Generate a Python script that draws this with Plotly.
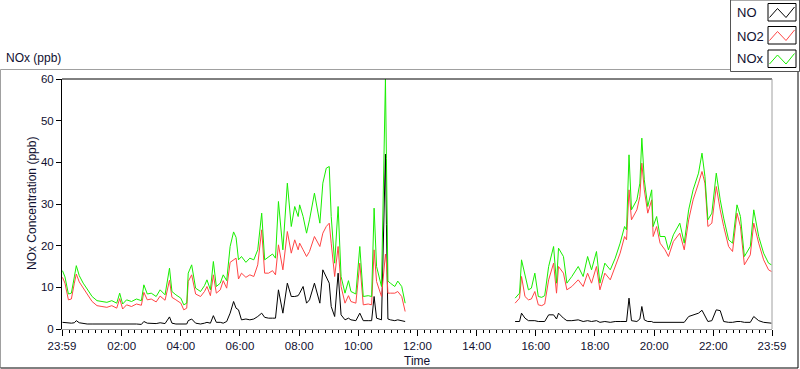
import plotly.graph_objects as go

# ---------------- data ----------------
DAY = "2024-01-02"
PREV_DAY = "2024-01-01"

times_am = ["00:00","00:05","00:12","00:18","00:24","00:28","00:34","00:42","00:50","01:00",
            "01:10","01:20","01:30","01:40","01:50","01:56","02:02","02:10","02:20","02:30",
            "02:40","02:45","02:52","03:00","03:10","03:18","03:28","03:37","03:42","03:50",
            "04:00","04:06","04:12","04:15","04:22","04:30","04:40","04:48","04:53","05:00",
            "05:06","05:12","05:20","05:26","05:33","05:40","05:47","05:52","05:57","06:03",
            "06:12","06:20","06:28","06:36","06:44","06:50","06:58","07:06","07:12","07:18",
            "07:27","07:36","07:44","07:51","07:58","08:01","08:08","08:15","08:21","08:31",
            "08:42","08:48","08:55","09:01","09:05","09:12","09:19","09:25","09:33","09:40",
            "09:45","09:55","10:03","10:10","10:20","10:27","10:32","10:37","10:47","10:55",
            "10:57","11:00","11:05","11:14","11:20","11:28","11:35"]
nox_am = [14.0,12.5,8.4,8.6,12.5,15.2,12.8,11.0,9.6,7.8,
          6.8,6.6,6.4,6.8,6.2,8.6,6.0,7.0,6.6,7.2,
          6.8,10.6,8.4,8.6,7.8,9.4,8.2,14.6,9.0,8.2,
          7.4,5.8,6.2,13.4,15.4,9.8,9.0,10.4,11.8,9.4,
          16.2,10.2,11.0,13.0,11.6,19.8,23.3,22.0,16.6,17.4,
          16.0,17.0,16.6,19.0,27.8,16.6,17.4,18.0,17.0,30.6,
          19.0,35.0,24.6,29.4,27.0,29.8,27.0,23.0,26.2,32.6,
          25.4,35.0,38.6,39.0,27.0,15.8,29.4,12.6,8.6,11.6,
          9.0,8.4,19.8,7.8,8.0,7.8,29.0,15.0,10.2,60.0,
          41.0,11.5,11.0,10.2,11.5,10.2,6.2]
no2_am = [12.4,11.0,7.0,7.2,11.0,13.2,11.3,9.7,8.4,6.6,
          5.6,5.4,5.2,5.6,5.0,7.3,4.8,5.8,5.4,6.0,
          5.7,8.8,7.0,7.2,6.5,7.9,6.9,11.7,7.6,7.0,
          6.2,4.6,5.0,11.4,13.0,8.4,7.8,9.0,10.2,8.0,
          13.0,8.6,9.4,11.6,9.8,16.0,16.7,17.0,12.0,13.4,
          12.4,13.0,12.6,15.4,23.8,13.4,13.4,14.0,13.0,20.2,
          14.2,23.4,18.2,21.4,19.0,20.6,19.0,17.4,18.6,22.2,
          19.8,23.0,24.6,25.4,20.6,12.6,19.8,10.2,6.2,8.0,
          6.6,6.2,15.8,5.8,6.0,5.8,19.0,11.4,7.8,18.0,
          15.8,8.6,8.6,8.6,9.0,7.8,4.2]
no_am = [1.6,1.5,1.4,1.4,1.5,2.0,1.5,1.3,1.2,1.2,
         1.2,1.2,1.2,1.2,1.2,1.3,1.2,1.2,1.2,1.2,
         1.1,1.8,1.4,1.4,1.3,1.5,1.3,2.9,1.4,1.2,
         1.2,1.2,1.2,2.0,2.4,1.4,1.2,1.4,1.6,1.4,
         3.2,1.6,1.6,1.4,1.8,3.8,6.6,5.0,4.6,2.2,
         2.4,2.2,2.4,3.0,3.8,2.8,2.6,2.6,2.6,9.4,
         3.8,11.0,7.8,7.8,8.0,8.6,10.2,6.2,7.0,11.0,
         6.2,14.2,12.6,11.0,5.4,3.0,13.4,3.4,2.2,2.6,
         2.2,2.0,3.8,2.0,2.0,2.0,7.8,2.6,2.2,42.0,
         25.0,2.4,2.2,2.0,2.2,2.0,1.8]

times_pm = ["15:18","15:27","15:31","15:38","15:45","15:51","15:58","16:05","16:12","16:18",
            "16:26","16:36","16:42","16:46","16:56","17:03","17:13","17:26","17:36","17:45",
            "17:53","18:03","18:10","18:20","18:31","18:41","18:51","19:00","19:04","19:09",
            "19:14","19:25","19:31","19:35","19:40","19:47","19:55","19:58","20:05","20:12",
            "20:22","20:29","20:39","20:52","21:01","21:10","21:19","21:30","21:37","21:43",
            "21:49","21:57","22:06","22:14","22:21","22:31","22:39","22:48","22:55","23:03",
            "23:15","23:22","23:32","23:42","23:52","23:58"]
nox_pm = [7.4,8.6,16.6,12.6,9.4,9.8,13.4,7.8,7.6,8.0,
          15.0,19.8,11.0,19.4,17.4,11.0,12.6,15.0,12.6,17.4,
          14.2,18.6,11.0,15.8,14.2,17.0,20.6,24.6,23.8,41.8,
          28.6,31.0,35.0,45.8,35.8,29.4,33.4,24.6,27.0,22.2,
          22.2,19.0,22.6,25.4,20.6,28.6,33.4,37.4,42.2,36.6,
          26.2,27.8,37.4,31.0,26.6,21.4,20.6,29.8,27.0,17.4,
          19.8,28.6,22.2,18.2,15.8,15.4]
no2_pm = [6.2,7.4,12.6,7.8,7.0,7.2,9.0,5.8,5.6,6.0,
          11.8,15.8,8.6,15.0,13.4,9.4,10.2,11.8,10.2,13.4,
          11.0,15.0,9.4,13.4,11.8,15.0,18.2,22.2,21.4,33.4,
          26.2,28.6,31.8,39.8,33.4,27.8,31.0,22.2,24.6,20.6,
          19.0,17.4,21.0,23.0,19.0,26.2,31.0,35.0,37.8,35.0,
          24.6,25.4,34.2,28.6,24.6,19.8,18.6,27.8,24.6,15.4,
          17.8,25.4,20.6,16.6,14.2,13.8]
no_pm = [1.8,1.8,3.8,2.6,2.0,2.0,2.0,1.8,1.8,1.8,
         3.4,3.4,2.4,3.8,2.6,2.0,2.0,2.2,1.8,2.0,
         1.8,2.0,1.6,1.8,1.6,1.8,1.8,1.8,1.8,7.4,
         2.0,1.8,2.4,5.4,2.2,1.8,1.8,1.6,1.6,1.6,
         1.6,1.6,1.6,1.6,1.6,3.0,3.4,3.8,4.5,3.0,
         1.8,2.0,4.6,4.4,1.8,1.6,1.6,1.8,1.8,1.6,
         1.6,3.0,2.0,1.6,1.4,1.4]

gap_time = "13:30"

series_names = ["NO", "NO2", "NOx"]
series_colors = ["#000000", "#ff4545", "#18ee00"]

x_tick_times = ["23:59", "02:00", "04:00", "06:00", "08:00", "10:00", "12:00",
                "14:00", "16:00", "18:00", "20:00", "22:00", "23:59"]
y_ticks = [0, 10, 20, 30, 40, 50, 60]

for a, b in [(times_am, nox_am), (times_am, no2_am), (times_am, no_am),
             (times_pm, nox_pm), (times_pm, no2_pm), (times_pm, no_pm)]:
    assert len(a) == len(b)

# ---------------- build ----------------
times = [f"{DAY} {t}" for t in times_am] + [f"{DAY} {gap_time}"] + [f"{DAY} {t}" for t in times_pm]
values = {
    "NO": no_am + [None] + no_pm,
    "NO2": no2_am + [None] + no2_pm,
    "NOx": nox_am + [None] + nox_pm,
}

x_start = f"{PREV_DAY} {x_tick_times[0]}"
x_end = f"{DAY} {x_tick_times[-1]}"
tickvals = [x_start] + [f"{DAY} {t}" for t in x_tick_times[1:-1]] + [x_end]

fig = go.Figure()
for name, color in zip(series_names, series_colors):
    fig.add_trace(go.Scatter(x=times, y=values[name], mode="lines", name=name,
                             line=dict(color=color, width=1), connectgaps=False,
                             showlegend=False, hoverinfo="skip"))

# geometry (pixels) of the plot area
W_FIG, H_FIG = 800, 369
L, R, T, B = 62, 772, 79, 329
PW, PH = R - L, B - T


def px(x):
    return (x - L) / PW


def py(y):
    return (B - y) / PH


FONT = "Liberation Sans"
shapes = []


def line(x0, y0, x1, y1, color, width=1):
    shapes.append(dict(type="line", xref="paper", yref="paper",
                       x0=px(x0), y0=py(y0), x1=px(x1), y1=py(y1),
                       line=dict(color=color, width=width)))


# outer sunken frame
line(0.5, 69.5, 798, 69.5, "#a0a0a0")
line(0.5, 69.5, 0.5, 368, "#a0a0a0")
line(798, 69.5, 798, 368, "#000000")
line(0.5, 368, 798, 368, "#000000")
# plot area top and right edges
line(L, T, R, T, "#000000")
line(R, T, R, B, "#a0a0a0")

# legend box
shapes.append(dict(type="rect", xref="paper", yref="paper",
                   x0=px(730.5), y0=py(0), x1=px(799.5), y1=py(71.5),
                   fillcolor="white", line=dict(color="#555555", width=1)))
legend_rows = [12, 36, 59]
box_tops = [3.5, 26.5, 50]
annotations = []
for name, color, yc, bt in zip(series_names, series_colors, legend_rows, box_tops):
    annotations.append(dict(text=name, xref="paper", yref="paper", x=px(735), y=py(yc),
                            xanchor="left", yanchor="middle", showarrow=False,
                            font=dict(family=FONT, size=13, color="#101030")))
    shapes.append(dict(type="rect", xref="paper", yref="paper",
                       x0=px(768), y0=py(bt), x1=px(796), y1=py(bt + 17.5),
                       fillcolor="white", line=dict(color="#000000", width=1)))
    pts = [(769.5, bt + 14), (777.5, bt + 5), (786, bt + 14), (794.5, bt + 3.5)]
    path = "M " + " L ".join(f"{px(a)},{py(b)}" for a, b in pts)
    shapes.append(dict(type="path", xref="paper", yref="paper", path=path,
                       line=dict(color=color, width=1)))

# titles
annotations.append(dict(text="NOx (ppb)", xref="paper", yref="paper", x=px(4), y=py(58),
                        xanchor="left", yanchor="middle", showarrow=False,
                        font=dict(family=FONT, size=12, color="#101030")))
annotations.append(dict(text="NOx Concentration (ppb)", xref="paper", yref="paper",
                        x=px(32), y=py(204), xanchor="center", yanchor="middle",
                        textangle=-90, showarrow=False,
                        font=dict(family=FONT, size=12, color="#101030")))
annotations.append(dict(text="Time", xref="paper", yref="paper", x=px(417), y=py(361),
                        xanchor="center", yanchor="middle", showarrow=False,
                        font=dict(family=FONT, size=12, color="#101030")))

fig.update_layout(
    width=W_FIG, height=H_FIG,
    margin=dict(l=L, r=W_FIG - R, t=T, b=H_FIG - B, pad=0),
    paper_bgcolor="white", plot_bgcolor="white",
    font=dict(family=FONT, size=12, color="#101030"),
    shapes=shapes, annotations=annotations, showlegend=False,
    xaxis=dict(type="date", range=[x_start, x_end], tickvals=tickvals, ticktext=x_tick_times,
               ticks="outside", ticklen=6, tickcolor="#000000", tickwidth=1,
               showline=True, linecolor="#a0a0a0", linewidth=1, showgrid=False,
               zeroline=False, automargin=False, tickfont=dict(size=11.5),
               minor=dict(ticks="outside", ticklen=3, tickcolor="#000000",
                          dtick=800000, tick0=f"{DAY} 00:00", showgrid=False)),
    yaxis=dict(range=[0, 60], tickvals=y_ticks, ticks="outside", ticklen=5,
               tickcolor="#000000", showline=True, linecolor="#000000", linewidth=1,
               showgrid=False, zeroline=False, automargin=False,
               tickfont=dict(size=11.5)),
)

fig.write_html("out.html", config={"displayModeBar": False},
               post_script="document.body.style.margin='0px';document.body.style.overflow='hidden';")
